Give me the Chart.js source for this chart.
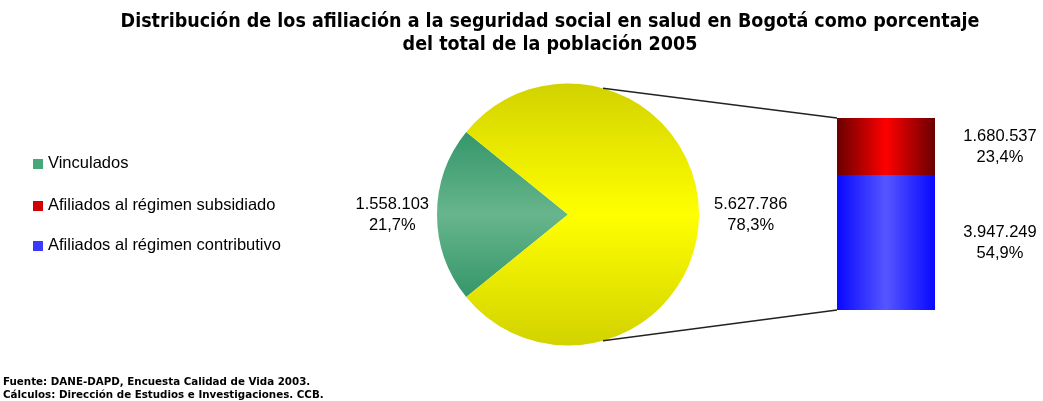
<!DOCTYPE html>
<html><head><meta charset="utf-8">
<script src="https://cdn.jsdelivr.net/npm/chart.js@4.4.1/dist/chart.umd.min.js"></script>
<style>
html,body{margin:0;padding:0;background:#fff;}
body{width:1043px;height:401px;overflow:hidden;position:relative;font-family:"Liberation Sans",Arial,sans-serif;}
canvas{position:absolute;left:0;top:0;}
#title{position:absolute;left:0;width:1100px;top:9px;text-align:center;font-family:"DejaVu Sans Condensed","DejaVu Sans",sans-serif;font-weight:bold;font-size:19.5px;font-stretch:condensed;line-height:23px;color:#000;margin:0;}
.leg{position:absolute;left:33px;font-size:16.5px;color:#000;line-height:20px;white-space:nowrap;}
.leg i{display:inline-block;width:10px;height:10px;margin-right:5px;vertical-align:-1px;}
#foot{position:absolute;left:3px;top:375px;font-family:"DejaVu Sans",sans-serif;font-weight:bold;font-size:10.3px;line-height:13px;color:#000;margin:0;}
</style></head>
<body>
<canvas id="pie" width="1043" height="401"></canvas>
<canvas id="bar" width="1043" height="401"></canvas>
<div id="title">Distribución de los afiliación a la seguridad social en salud en Bogotá como porcentaje<br>del total de la población 2005</div>
<div id="legend"></div>
<div id="foot">Fuente: DANE-DAPD, Encuesta Calidad de Vida 2003.<br>Cálculos: Dirección de Estudios e Investigaciones. CCB.</div>
<script>
// ---- data ----
const pieLabels = ['Vinculados', 'Afiliados'];
const pieValues = [1558103, 5627786];
const barLabels = ['Afiliados al régimen contributivo', 'Afiliados al régimen subsidiado'];
const barValues = [3947249, 1680537];
const legendLabels = ['Vinculados', 'Afiliados al régimen subsidiado', 'Afiliados al régimen contributivo'];

// ---- helpers ----
const grandTotal = pieValues.reduce((a, b) => a + b, 0);
const otherTotal = barValues.reduce((a, b) => a + b, 0);
const fmtNum = v => String(v).replace(/\B(?=(\d{3})+(?!\d))/g, '.');
const fmtPct = v => (v / grandTotal * 100).toFixed(1).replace('.', ',') + '%';
const FONT = '16.5px "Liberation Sans", Arial, sans-serif';

// legend (HTML)
const legendColors = ['#47a778', '#d20000', '#3a3aff'];
const legendTops = [152, 194, 234];
const legEl = document.getElementById('legend');
legendLabels.forEach((t, i) => {
  const d = document.createElement('div');
  d.className = 'leg';
  d.style.top = legendTops[i] + 'px';
  d.innerHTML = '<i style="background:' + legendColors[i] + '"></i>' + t;
  legEl.appendChild(d);
});

const greenShare = pieValues[0] / grandTotal;

function pieColor(ctx) {
  const chart = ctx.chart, a = chart.chartArea;
  if (!a) return ctx.dataIndex === 0 ? '#55ad80' : '#eeee00';
  const cy = (a.top + a.bottom) / 2;
  const r = Math.min(a.right - a.left, a.bottom - a.top) / 2;
  if (ctx.dataIndex === 0) {
    const h = r * Math.sin(greenShare * Math.PI);
    const g = chart.ctx.createLinearGradient(0, cy - h, 0, cy + h);
    g.addColorStop(0, '#35966a');
    g.addColorStop(0.5, '#67b58c');
    g.addColorStop(1, '#35966a');
    return g;
  }
  const g = chart.ctx.createLinearGradient(0, cy - r, 0, cy + r);
  g.addColorStop(0, '#d2d200');
  g.addColorStop(0.5, '#ffff00');
  g.addColorStop(1, '#d2d200');
  return g;
}

const pieLabelPlugin = {
  id: 'pieLabels',
  afterDatasetsDraw(chart) {
    const c = chart.ctx;
    const meta = chart.getDatasetMeta(0);
    c.save();
    c.font = FONT; c.fillStyle = '#000'; c.textAlign = 'center'; c.textBaseline = 'middle';
    meta.data.forEach((arc, i) => {
      const mid = (arc.startAngle + arc.endAngle) / 2;
      const l1 = fmtNum(pieValues[i]), l2 = fmtPct(pieValues[i]);
      const w = Math.max(c.measureText(l1).width, c.measureText(l2).width);
      const gap = Math.cos(mid) < 0 ? 8 : 15;
      const d = arc.outerRadius + gap + w / 2;
      const x = arc.x + Math.cos(mid) * d;
      const y = arc.y + Math.sin(mid) * d;
      c.fillText(l1, x, y - 10.5);
      c.fillText(l2, x, y + 10.5);
    });
    c.restore();
  }
};

const pieChart = new Chart(document.getElementById('pie'), {
  type: 'pie',
  data: { labels: pieLabels, datasets: [{ data: pieValues, backgroundColor: pieColor, borderWidth: 0 }] },
  options: {
    responsive: false, animation: false, events: [],
    rotation: 90 + 180 - greenShare * 180,
    layout: { padding: { left: 437, right: 344, top: 83, bottom: 55 } },
    plugins: { legend: { display: false }, tooltip: { enabled: false }, title: { display: false } }
  },
  plugins: [pieLabelPlugin]
});

function barColor(i) {
  return function (ctx) {
    const chart = ctx.chart, a = chart.chartArea;
    if (!a) return i === 0 ? '#2222ff' : '#cc0000';
    const g = chart.ctx.createLinearGradient(a.left, 0, a.right, 0);
    if (i === 0) {
      g.addColorStop(0, '#0808ff'); g.addColorStop(0.5, '#5656ff'); g.addColorStop(1, '#0808ff');
    } else {
      g.addColorStop(0, '#6a0000'); g.addColorStop(0.5, '#ff0000'); g.addColorStop(1, '#6a0000');
    }
    return g;
  };
}

const barExtras = {
  id: 'barExtras',
  afterDatasetsDraw(chart) {
    const c = chart.ctx;
    c.save();
    c.font = FONT; c.fillStyle = '#000'; c.textAlign = 'center'; c.textBaseline = 'middle';
    chart.data.datasets.forEach((ds, i) => {
      const el = chart.getDatasetMeta(i).data[0];
      const x = el.x + el.width / 2 + 65;
      const y = (el.y + el.base) / 2;
      c.fillText(fmtNum(barValues[i]), x, y - 10.5);
      c.fillText(fmtPct(barValues[i]), x, y + 10.5);
    });
    // connector lines from the pie's "other" slice to the bar
    const arc = pieChart.getDatasetMeta(0).data[1];
    const topEl = chart.getDatasetMeta(chart.data.datasets.length - 1).data[0];
    const botEl = chart.getDatasetMeta(0).data[0];
    const ang = (90 - 15.5) * Math.PI / 180;
    c.strokeStyle = '#222'; c.lineWidth = 1.3;
    c.beginPath();
    c.moveTo(arc.x + Math.cos(-ang) * arc.outerRadius, arc.y + Math.sin(-ang) * arc.outerRadius);
    c.lineTo(topEl.x - topEl.width / 2, topEl.y);
    c.moveTo(arc.x + Math.cos(ang) * arc.outerRadius, arc.y + Math.sin(ang) * arc.outerRadius);
    c.lineTo(botEl.x - botEl.width / 2, botEl.base);
    c.stroke();
    c.restore();
  }
};

new Chart(document.getElementById('bar'), {
  type: 'bar',
  data: {
    labels: ['Afiliados'],
    datasets: barValues.map((v, i) => ({
      label: barLabels[i], data: [v], backgroundColor: barColor(i), borderWidth: 0,
      barPercentage: 1, categoryPercentage: 1
    }))
  },
  options: {
    responsive: false, animation: false, events: [],
    layout: { padding: { left: 837, right: 108, top: 118, bottom: 91 } },
    scales: {
      x: { display: false, stacked: true },
      y: { display: false, stacked: true, min: 0, max: otherTotal }
    },
    plugins: { legend: { display: false }, tooltip: { enabled: false }, title: { display: false } }
  },
  plugins: [barExtras]
});
</script>
</body></html>
